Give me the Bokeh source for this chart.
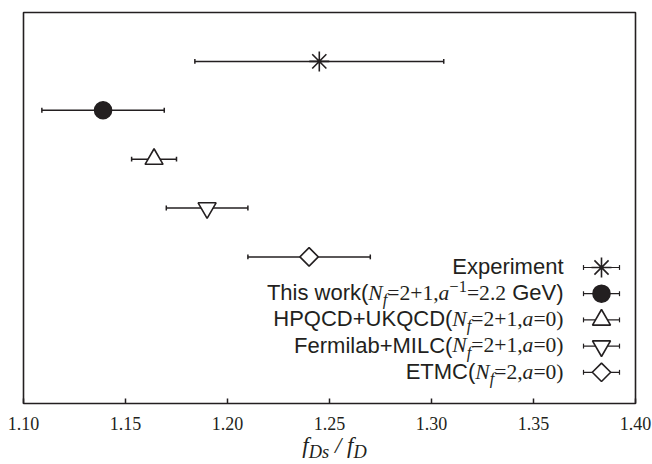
import numpy as np
from bokeh.plotting import figure
from bokeh.models import ColumnDataSource, Range1d
from bokeh.core.properties import field
from bokeh.embed import file_html
from bokeh.resources import INLINE

# ---- f_Ds / f_D determinations ----
groups = ["Experiment", "This work", "HPQCD+UKQCD", "Fermilab+MILC", "ETMC"]
ratio = [1.245, 1.139, 1.164, 1.190, 1.240]
error = [0.061, 0.030, 0.011, 0.020, 0.030]
row = [5, 4, 3, 2, 1]
markers = ["asterisk", "circle", "triangle", "inverted_triangle", "square"]
fills = ["#231f20", "#231f20", "white", "white", "white"]
tick_values = [1.10, 1.15, 1.20, 1.25, 1.30, 1.35, 1.40]
tick_labels = [f"{t:.2f}" for t in tick_values]

# legend texts, split into runs of (text, style)
legend_pieces = [
    [("Experiment", "sans")],
    [("This work(", "sans"), ("N", "it"), ("f", "it_sub"), ("=2+1,", "rm"),
     ("a", "it"), ("\u22121", "rm_sup"), ("=2.2", "rm"), (" GeV)", "sans")],
    [("HPQCD+UKQCD(", "sans"), ("N", "it"), ("f", "it_sub"), ("=2+1,", "rm"), ("a", "it"), ("=0)", "rm")],
    [("Fermilab+MILC(", "sans"), ("N", "it"), ("f", "it_sub"), ("=2+1,", "rm"), ("a", "it"), ("=0)", "rm")],
    [("ETMC(", "sans"), ("N", "it"), ("f", "it_sub"), ("=2,", "rm"), ("a", "it"), ("=0)", "rm")],
]
axis_label_pieces = [("f", "ax_it"), ("Ds", "ax_sub"), (" /", "ax_rm"), (" f", "ax_it"), ("D", "ax_sub")]

INK = "#231f20"
W, H = 652, 464
# plot box edges in page pixels
BOX_L, BOX_R, BOX_T, BOX_B = 23, 635, 12, 403
X0, X1 = 1.10, 1.40
Y0, Y1 = -2.0, 6.0
px_per_x = (BOX_R - BOX_L) / (X1 - X0)
px_per_y = (BOX_B - BOX_T) / (Y1 - Y0)
BASELINE_FIX = 0.36  # em; lifts runs so their alphabetic baseline sits on the target line

def y_at(px):
    return Y1 - (px - BOX_T) / px_per_y

def x_at(px):
    return X0 + (px - BOX_L) / px_per_x

# font metrics (per 1000 em) for width estimates
SANS_W = {' ': 278, '(': 333, ')': 333, '+': 584, ',': 278, '.': 278, '=': 584,
          'A': 667, 'B': 667, 'C': 722, 'D': 722, 'E': 667, 'F': 611, 'G': 778, 'H': 722,
          'I': 278, 'K': 667, 'L': 556, 'M': 833, 'P': 667, 'Q': 778, 'T': 611, 'U': 722,
          'V': 667, 'a': 556, 'b': 556, 'e': 556, 'h': 556, 'i': 222, 'k': 500, 'l': 222,
          'm': 833, 'n': 556, 'o': 556, 'p': 556, 'r': 333, 's': 500, 't': 278, 'w': 722,
          'x': 500}
RM_W = {' ': 250, '(': 333, ')': 333, '+': 564, ',': 250, '.': 250, '=': 564,
        '\u2212': 564, '/': 278}
IT_W = {'N': 667, 'f': 278, 'a': 500, 'D': 722, 's': 389, '/': 278, ' ': 250}
for d in "0123456789":
    SANS_W[d] = 556
    RM_W[d] = 500

STYLES = {
    # name: (font, font style, size factor, metrics, shift down px)
    "sans": ("Liberation Sans", "normal", 1.0, SANS_W, 0),
    "rm": ("Liberation Serif", "normal", 0.98, RM_W, 0),
    "it": ("Liberation Serif", "italic", 0.98, IT_W, 0),
    "it_sub": ("Liberation Serif", "italic", 0.75, IT_W, 5),
    "rm_sup": ("Liberation Serif", "normal", 0.75, RM_W, -8),
    "ax_it": ("Liberation Serif", "italic", 1.0, IT_W, 0),
    "ax_rm": ("Liberation Serif", "italic", 1.0, IT_W, 0),
    "ax_sub": ("Liberation Serif", "italic", 0.8, IT_W, 5),
}

def run_width(text, style, base):
    font, fstyle, k, metrics, dy = STYLES[style]
    return sum(metrics.get(c, 500) for c in text) / 1000.0 * base * k

def lay_out(pieces, base, start, x, y, cols):
    """Append the runs of one mixed-font string, left to right from offset `start`."""
    cur = start
    for t, s in pieces:
        font, fstyle, k, metrics, dy = STYLES[s]
        body = t.lstrip(" ")
        skip = run_width(t[:len(t) - len(body)], s, base)
        cols["x"].append(x)
        cols["y"].append(y)
        cols["text"].append(body)
        cols["font"].append(font)
        cols["style"].append(fstyle)
        cols["size"].append(f"{base * k:.1f}px")
        cols["xo"].append(cur + skip)
        cols["yo"].append(dy - BASELINE_FIX * base * k)
        cur += run_width(t, s, base)

def new_cols():
    return dict(x=[], y=[], text=[], font=[], style=[], size=[], xo=[], yo=[])

def draw_runs(fig, cols):
    fig.text(x="x", y="y", text="text", source=ColumnDataSource(cols), text_font=field("font"),
             text_font_style=field("style"), text_font_size=field("size"),
             x_offset="xo", y_offset="yo", text_align="left", text_baseline="alphabetic",
             text_color=INK)

# one canvas-wide frame; the plot box, ticks and labels are drawn inside it
p = figure(width=W, height=H, output_backend="svg", toolbar_location=None,
           x_range=Range1d(x_at(0), x_at(W)), y_range=Range1d(y_at(H), y_at(0)),
           min_border=0, min_border_left=0, min_border_right=0,
           min_border_top=0, min_border_bottom=0)
p.background_fill_color = "white"
p.border_fill_color = "white"
p.outline_line_color = None
p.xgrid.visible = False
p.ygrid.visible = False
p.xaxis.visible = False
p.yaxis.visible = False

# plot box
p.quad(left=[X0], right=[X1], bottom=[Y0], top=[Y1], fill_color=None,
       line_color=INK, line_width=1.6)

# inward ticks on the bottom edge, with their labels
TICK_FONT = 18
tick_len = 5 / px_per_y
p.segment(x0=tick_values, y0=[Y0] * len(tick_values), x1=tick_values,
          y1=[Y0 + tick_len] * len(tick_values), line_color=INK, line_width=1.5)
p.text(x=tick_values, y=[y_at(429)] * len(tick_values), text=tick_labels,
       y_offset=-BASELINE_FIX * TICK_FONT,
       text_font="Liberation Sans", text_font_size=f"{TICK_FONT}px", text_color=INK,
       text_align="center", text_baseline="alphabetic")

# data points with horizontal error bars
ratio_a = np.array(ratio)
err_a = np.array(error)
row_a = np.array(row, dtype=float)
cap = 0.05
angles = [np.pi / 4 if m == "square" else 0.0 for m in markers]
sizes = [20, 17, 18, 18, 13]
src = ColumnDataSource(dict(
    x=ratio_a, y=row_a, lo=ratio_a - err_a, hi=ratio_a + err_a,
    ylo=row_a - cap, yhi=row_a + cap, marker=markers, fill=fills, angle=angles, size=sizes,
))
for seg in (("lo", "y", "hi", "y"), ("lo", "ylo", "lo", "yhi"), ("hi", "ylo", "hi", "yhi")):
    p.segment(x0=seg[0], y0=seg[1], x1=seg[2], y1=seg[3], source=src, line_color=INK, line_width=1.5)
p.scatter(x="x", y="y", source=src, marker="marker", size="size", angle="angle",
          fill_color="fill", line_color=INK, line_width=1.6)

# legend: label on the left, marker with error bar on the right
LEG_FONT = 22
LEG_TEXT_X = x_at(563)
LEG_MARK_X = x_at(601)
LEG_HALF = 18 / px_per_x
leg_rows_px = [267 + 26.2 * i for i in range(len(groups))]
leg_y = np.array([y_at(v) for v in leg_rows_px])
leg_base_y = np.array([y_at(v + 7) for v in leg_rows_px])

lsrc = ColumnDataSource(dict(
    x=[LEG_MARK_X] * len(groups), y=leg_y,
    lo=[LEG_MARK_X - LEG_HALF] * len(groups), hi=[LEG_MARK_X + LEG_HALF] * len(groups),
    ylo=leg_y - cap, yhi=leg_y + cap, marker=markers, fill=fills, angle=angles, size=sizes,
))
for seg in (("lo", "y", "hi", "y"), ("lo", "ylo", "lo", "yhi"), ("hi", "ylo", "hi", "yhi")):
    p.segment(x0=seg[0], y0=seg[1], x1=seg[2], y1=seg[3], source=lsrc, line_color=INK, line_width=1.2)
p.scatter(x="x", y="y", source=lsrc, marker="marker", size="size", angle="angle",
          fill_color="fill", line_color=INK, line_width=1.6)

leg_cols = new_cols()
for pieces, yv in zip(legend_pieces, leg_base_y):
    total = sum(run_width(t, s, LEG_FONT) for t, s in pieces)
    lay_out(pieces, LEG_FONT, -total, LEG_TEXT_X, yv, leg_cols)
draw_runs(p, leg_cols)

# axis title f_Ds / f_D
AX_FONT = 23
ax_cols = new_cols()
total = sum(run_width(t, s, AX_FONT) for t, s in axis_label_pieces)
lay_out(axis_label_pieces, AX_FONT, -total / 2, x_at(334), y_at(453), ax_cols)
draw_runs(p, ax_cols)

open("out.html", "w").write(file_html(p, INLINE))
